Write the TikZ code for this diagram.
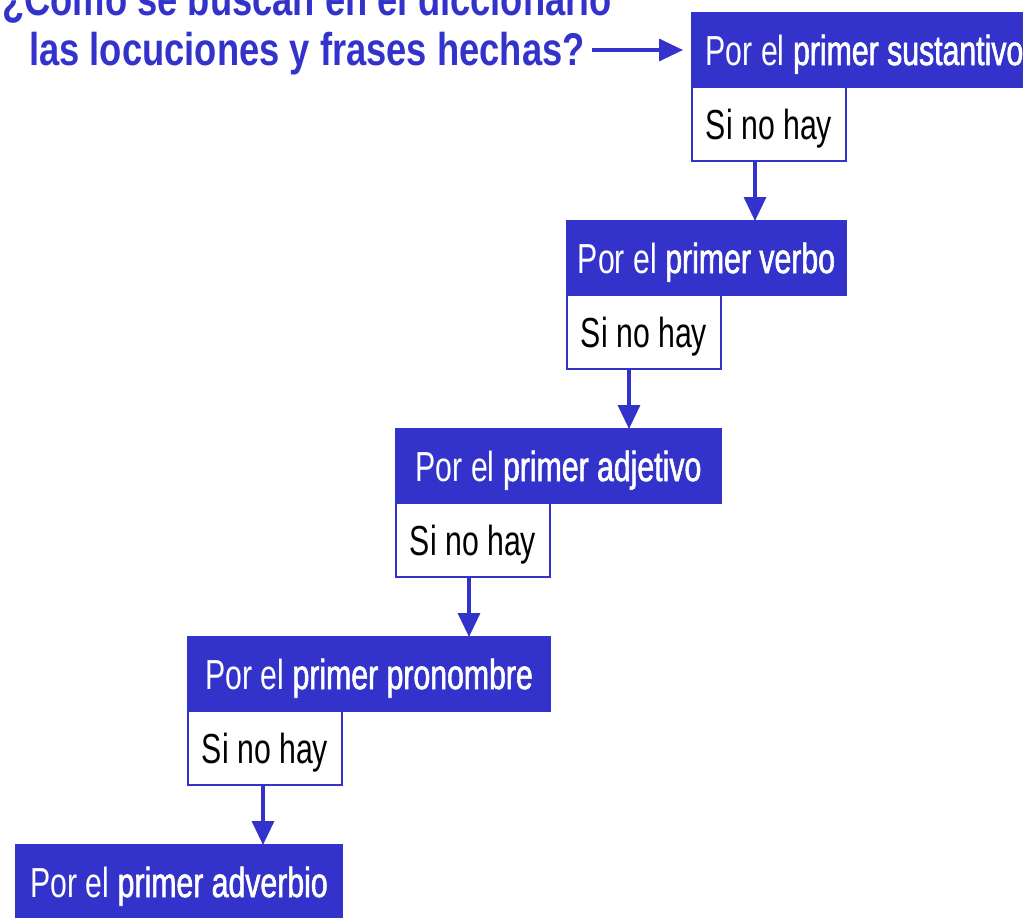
\documentclass[tikz,border=0pt]{standalone}
\usepackage{fontspec}
\usetikzlibrary{positioning,arrows.meta}
\newfontfamily\boxfont[FakeStretch=0.72]{Liberation Sans}
\newfontfamily\keyfont[FakeStretch=0.72,FakeBold=1.4]{Liberation Sans}
\newfontfamily\headfont[FakeStretch=0.79]{Liberation Sans}
\newcommand\kw[1]{{\keyfont #1}}
\definecolor{azul}{RGB}{51,51,204}
\tikzset{
  keybox/.style={draw=azul, fill=azul, text=white, line width=1pt,
                 font=\boxfont\fontsize{21pt}{24pt}\selectfont,
                 minimum height=37pt, inner sep=0pt, outer sep=0pt,
                 text height=15pt, text depth=0pt},
  sinobox/.style={keybox, fill=white, text=black, minimum width=77pt},
  flow/.style={-{Triangle[length=12pt,width=11pt]}, line width=1.7pt, azul},
  titletxt/.style={text=azul, inner sep=0pt,
                   font=\headfont\bfseries\fontsize{23pt}{25pt}\selectfont},
}

\begin{document}
\begin{tikzpicture}[x=0.5pt, y=-0.5pt]
\useasboundingbox (0,0) rectangle (1023,917);

% ---------------------------------------------------------------- question
\node[titletxt, anchor=base] (title2) at (307,65) {las locuciones y frases hechas?};
\node[titletxt, anchor=base] (title1) at ([yshift=25pt]title2.base)
  {¿Cómo se buscan en el diccionario};

% ---------------------------------------------------------------- steps
\node[keybox, anchor=north west, minimum width=172.5pt] (sust) at (692,13)
  {Por el \kw{primer sustantivo}};
\draw[flow, shorten <=3.5pt, shorten >=4.5pt] (title2.east |- sust.west) -- (sust.west);
\node[sinobox, below=0pt of sust.south west, anchor=north west] (sino1) {Si no hay};

\node[keybox, below=30pt of sino1.south east, anchor=north east, minimum width=139.5pt]
  (verbo) {Por el \kw{primer verbo}};
\node[sinobox, below=0pt of verbo.south west, anchor=north west] (sino2) {Si no hay};

\node[keybox, below=30pt of sino2.south east, anchor=north east, minimum width=162.5pt]
  (adj) {Por el \kw{primer adjetivo}};
\node[sinobox, below=0pt of adj.south west, anchor=north west] (sino3) {Si no hay};

\node[keybox, below=30pt of sino3.south east, anchor=north east, minimum width=181pt]
  (pron) {Por el \kw{primer pronombre}};
\node[sinobox, below=0pt of pron.south west, anchor=north west] (sino4) {Si no hay};

\node[keybox, below=30pt of sino4.south east, anchor=north east, minimum width=163pt]
  (adv) {Por el \kw{primer adverbio}};

% ---------------------------------------------------------------- arrows down
\draw[flow] ([xshift=-7pt]sino1.south) -- ([xshift=-7pt]sino1.south |- verbo.north);
\draw[flow] ([xshift=-7.5pt]sino2.south) -- ([xshift=-7.5pt]sino2.south |- adj.north);
\draw[flow] ([xshift=-2pt]sino3.south) -- ([xshift=-2pt]sino3.south |- pron.north);
\draw[flow] ([xshift=-1pt]sino4.south) -- ([xshift=-1pt]sino4.south |- adv.north);

\end{tikzpicture}
\end{document}
